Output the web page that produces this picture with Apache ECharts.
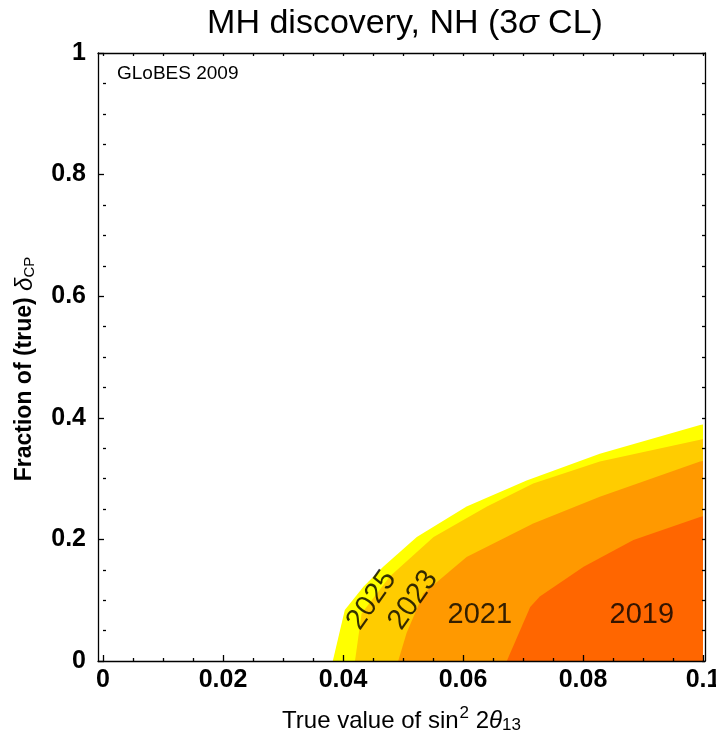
<!DOCTYPE html>
<html>
<head>
<meta charset="utf-8">
<script src="https://cdn.jsdelivr.net/npm/echarts@6/dist/echarts.min.js"></script>
<style>
  html, body { margin: 0; padding: 0; background: #fff; }
  #chart { width: 716px; height: 735px; }
</style>
</head>
<body>
<div id="chart"></div>
<script>
// tick positions
const xTicks = [0, 0.02, 0.04, 0.06, 0.08, 0.1]
const xMinorTicks = [0.005, 0.01, 0.015, 0.025, 0.03, 0.035, 0.045, 0.05, 0.055,
  0.065, 0.07, 0.075, 0.085, 0.09, 0.095]
const yTicks = [0, 0.2, 0.4, 0.6, 0.8, 1]
const yMinorTicks = [0.05, 0.1, 0.15, 0.25, 0.3, 0.35, 0.45, 0.5, 0.55,
  0.65, 0.7, 0.75, 0.85, 0.9, 0.95]

// contour boundaries [sin^2 2theta13, fraction of delta_CP]
const years = ['2025', '2023', '2021', '2019']
const c2025 = [[0.0383, 0], [0.0403, 0.084], [0.0434, 0.122], [0.0467, 0.155], [0.0523, 0.204],
  [0.0606, 0.254], [0.0706, 0.297], [0.0828, 0.341], [0.0995, 0.388], [0.1, 0.389]]
const c2023 = [[0.042, 0], [0.0431, 0.078], [0.0478, 0.139], [0.0551, 0.204], [0.064, 0.254],
  [0.0717, 0.292], [0.0828, 0.328], [0.0995, 0.364], [0.1, 0.365]]
const c2021 = [[0.0492, 0], [0.0506, 0.046], [0.0534, 0.111], [0.0606, 0.171], [0.0717, 0.226],
  [0.0828, 0.27], [0.0995, 0.328], [0.1, 0.329]]
const c2019 = [[0.0673, 0], [0.0712, 0.089], [0.0728, 0.106], [0.0801, 0.155], [0.0884, 0.199],
  [0.0995, 0.237], [0.1, 0.238]]
// label anchors and rotation
const labelPos = [[0.0448, 0.1], [0.0517, 0.1], [0.0628, 0.076], [0.0898, 0.076]]
const labelRotate = [55, 55, 0, 0]

const COLORS = ['#ffff00', '#ffcc00', '#ff9900', '#ff6600']
const FONT = '"Liberation Sans", Arial, Helvetica, sans-serif'
const X_MIN = -0.00083
const X_MAX = 0.10033

const chart = echarts.init(document.getElementById('chart'))

const line = { color: '#000', width: 1.3 }
const fmt = (v) => String(+v.toFixed(3))

const contours = [c2025, c2023, c2021, c2019]
const series = contours.map((data, i) => ({
  type: 'line',
  name: years[i],
  data,
  symbol: 'none',
  silent: true,
  lineStyle: { width: 0 },
  areaStyle: { color: COLORS[i], opacity: 1 },
  z: 2 + i,
}))

series.push({
  type: 'scatter',
  symbolSize: 0,
  silent: true,
  z: 10,
  data: labelPos.map((p, i) => ({
    value: p,
    name: years[i],
    label: { rotate: labelRotate[i] },
  })),
  label: {
    show: true,
    position: 'inside',
    formatter: (p) => p.name,
    color: '#000',
    textBorderWidth: 0,
    fontSize: 29,
    fontFamily: FONT,
  },
})

chart.setOption({
  animation: false,
  backgroundColor: '#fff',
  grid: { left: 98, right: 11, top: 53, bottom: 74, outerBoundsMode: 'none' },
  graphic: [
    {
      type: 'text',
      x: 405,
      y: 24,
      style: {
        text: '{a|MH discovery, NH (3}{i|σ}{a| CL)}',
        align: 'center',
        verticalAlign: 'middle',
        rich: {
          a: { fontSize: 34, fontFamily: FONT, fill: '#000' },
          i: { fontSize: 34, fontFamily: FONT, fontStyle: 'italic', fill: '#000' },
        },
      },
    },
    {
      type: 'text',
      x: 117,
      y: 74,
      style: {
        text: 'GLoBES 2009',
        fontSize: 19,
        fontFamily: FONT,
        fill: '#000',
        verticalAlign: 'middle',
      },
      z: 20,
    },
  ],
  xAxis: [
    {
      type: 'value',
      position: 'bottom',
      min: X_MIN,
      max: X_MAX,
      axisLine: { onZero: false, lineStyle: line },
      axisTick: { inside: true, length: 6, customValues: xTicks, lineStyle: line },
      axisLabel: {
        customValues: xTicks,
        formatter: fmt,
        margin: 7,
        color: '#000',
        fontSize: 25,
        fontWeight: 'bold',
        fontFamily: FONT,
      },
      splitLine: { show: false },
      name: '{t|True value of sin}{sup|2}{t| 2}{i|θ}{sub|13}',
      nameLocation: 'middle',
      nameGap: 44,
      nameTextStyle: {
        rich: {
          t: { fontSize: 24, fontFamily: FONT, color: '#000' },
          i: { fontSize: 24, fontFamily: FONT, fontStyle: 'italic', color: '#000' },
          sup: { fontSize: 17, fontFamily: FONT, color: '#000', padding: [0, 0, 15, 1] },
          sub: { fontSize: 17, fontFamily: FONT, color: '#000', padding: [8, 0, 0, 0] },
        },
      },
      z: 20,
    },
    {
      type: 'value',
      position: 'bottom',
      min: X_MIN,
      max: X_MAX,
      axisLine: { show: false },
      axisTick: { inside: true, length: 3, customValues: xMinorTicks, lineStyle: line },
      axisLabel: { show: false },
      splitLine: { show: false },
      z: 20,
    },
    {
      type: 'value',
      position: 'top',
      min: X_MIN,
      max: X_MAX,
      axisLine: { onZero: false, lineStyle: line },
      axisTick: { inside: true, length: 3, customValues: xTicks.concat(xMinorTicks), lineStyle: line },
      axisLabel: { show: false },
      splitLine: { show: false },
      z: 20,
    },
  ],
  yAxis: [
    {
      type: 'value',
      position: 'left',
      min: 0,
      max: 1,
      axisLine: { onZero: false, lineStyle: line },
      axisTick: { inside: true, length: 6, customValues: yTicks, lineStyle: line },
      axisLabel: {
        customValues: yTicks,
        formatter: fmt,
        margin: 12,
        color: '#000',
        fontSize: 25,
        fontWeight: 'bold',
        fontFamily: FONT,
      },
      splitLine: { show: false },
      name: '{b|Fraction of (true) }{i|δ}{sub|CP}',
      nameLocation: 'middle',
      nameRotate: 90,
      nameGap: 61,
      nameTextStyle: {
        padding: [0, 24, 0, 0],
        rich: {
          b: { fontSize: 23, fontWeight: 'bold', fontFamily: FONT, color: '#000' },
          i: { fontSize: 24, fontStyle: 'italic', fontFamily: FONT, color: '#000' },
          sub: { fontSize: 15, fontFamily: FONT, color: '#000', padding: [9, 0, 0, 0] },
        },
      },
      z: 20,
    },
    {
      type: 'value',
      position: 'left',
      min: 0,
      max: 1,
      axisLine: { show: false },
      axisTick: { inside: true, length: 3, customValues: yMinorTicks, lineStyle: line },
      axisLabel: { show: false },
      splitLine: { show: false },
      z: 20,
    },
    {
      type: 'value',
      position: 'right',
      min: 0,
      max: 1,
      axisLine: { onZero: false, lineStyle: line },
      axisTick: { inside: true, length: 3, customValues: yTicks.concat(yMinorTicks), lineStyle: line },
      axisLabel: { show: false },
      splitLine: { show: false },
      z: 20,
    },
  ],
  series,
})
</script>
</body>
</html>
